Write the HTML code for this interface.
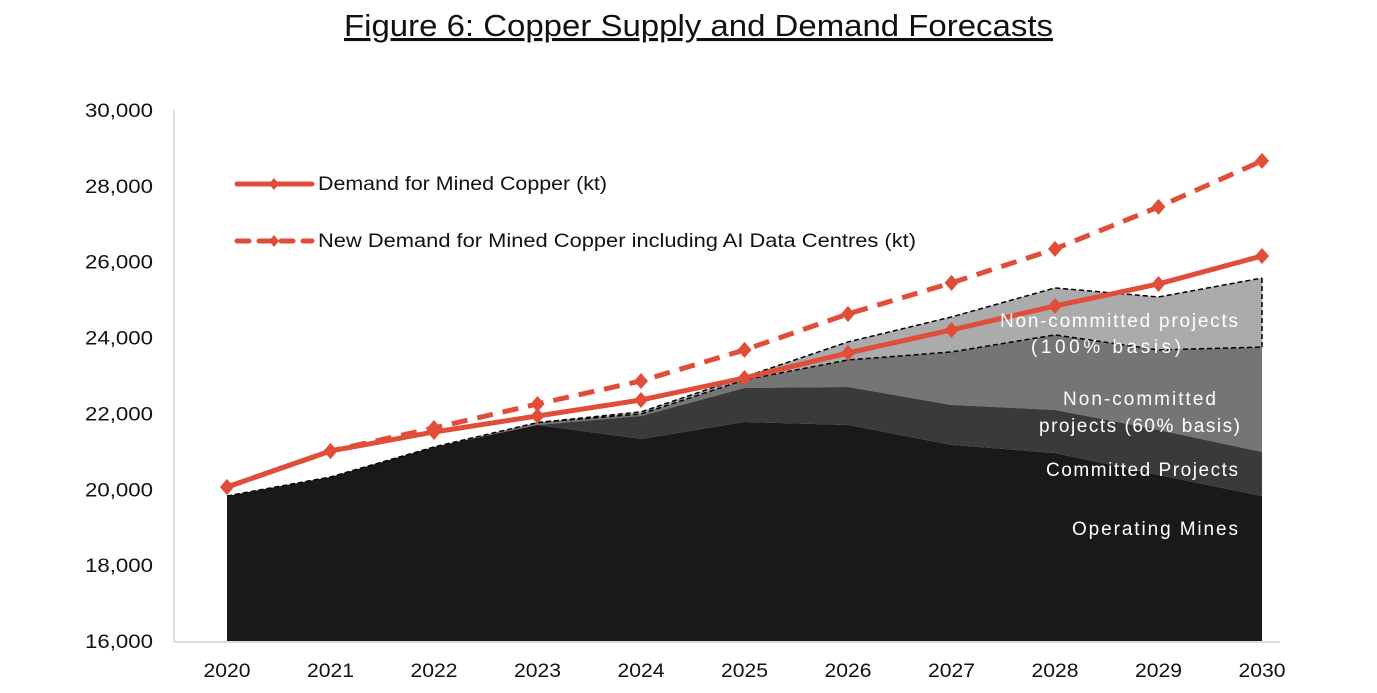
<!DOCTYPE html>
<html><head><meta charset="utf-8"><style>
body{margin:0;background:#fff;width:1377px;height:688px;overflow:hidden;font-family:"Liberation Sans",sans-serif;}
</style></head><body>
<svg id="chart" width="1377" height="688" font-family="Liberation Sans, sans-serif">
<text x="344" y="36" font-size="31" fill="#111" text-decoration="underline" textLength="709" lengthAdjust="spacingAndGlyphs">Figure 6: Copper Supply and Demand Forecasts</text>
<g id="areas"></g><g id="axes"></g><g id="lines"></g>
<g>
<line x1="237" y1="184" x2="312" y2="184" stroke="#e04e39" stroke-width="5" stroke-linecap="round"/>
<path d="M274 178 L279 184 L274 190 L269 184Z" fill="#e04e39"/>
<text x="318" y="190" font-size="19" fill="#111" textLength="289" lengthAdjust="spacingAndGlyphs">Demand for Mined Copper (kt)</text>
<line x1="237" y1="241" x2="312" y2="241" stroke="#e04e39" stroke-width="5" stroke-dasharray="12 10" stroke-linecap="round"/>
<path d="M274 235 L279 241 L274 247 L269 241Z" fill="#e04e39"/>
<text x="318" y="247" font-size="19" fill="#111" textLength="598" lengthAdjust="spacingAndGlyphs">New Demand for Mined Copper including AI Data Centres (kt)</text>
</g>
<g font-size="19" fill="#fff" lengthAdjust="spacingAndGlyphs">
<text x="1000" y="327" textLength="238">Non-committed projects</text>
<text x="1031" y="353" textLength="150">(100% basis)</text>
<text x="1063" y="405" textLength="153">Non-committed</text>
<text x="1039" y="432" textLength="201">projects (60% basis)</text>
<text x="1046" y="476" textLength="192">Committed Projects</text>
<text x="1072" y="535" textLength="166">Operating Mines</text>
</g>
</svg>
<script>
const years=[2020,2021,2022,2023,2024,2025,2026,2027,2028,2029,2030];
const operating=[19824,20325,21116,21696,21327,21775,21696,21170,20957,20378,19824];
const committedTop=[19824,20325,21116,21696,21933,22672,22698,22223,22091,21564,20984];
const nc60Top=[19824,20325,21116,21760,21986,22883,23410,23621,24070,23674,23750];
const nc100Top=[19824,20325,21116,21760,22040,22962,23885,24544,25309,25070,25570];
const demand=[20061,21010,21511,21933,22355,22935,23595,24201,24834,25414,26152];
const aiDemand=[20061,21010,21617,22250,22856,23674,24623,25441,26337,27445,28658];
const yTicks=[16000,18000,20000,22000,24000,26000,28000,30000];
const NS='http://www.w3.org/2000/svg';
const x=i=>227+(1262-227)*i/(years.length-1);
const y=v=>641-(v-16000)/14000*531;
function mk(tag,attrs,parent){const e=document.createElementNS(NS,tag);for(const k in attrs)e.setAttribute(k,attrs[k]);document.getElementById(parent).appendChild(e);return e;}
function band(top,bot,fill,name){
 let d='M'+top.map((v,i)=>x(i)+' '+y(v)).join(' L');
 for(let i=bot.length-1;i>=0;i--)d+=' L'+x(i)+' '+y(bot[i]);
 const e=mk('path',{d:d+'Z',fill:fill},'areas');
 
 
}
const base=years.map(()=>16000);
band(nc100Top,nc60Top,'#ababab','area-noncommitted-100');
band(nc60Top,committedTop,'#757575','area-noncommitted-60');
band(committedTop,operating,'#3a3a3a','area-committed');
band(operating,base,'#191919','area-operating');
const pl=(a,o)=>a.map((v,i)=>x(i+(o||0))+','+y(v)).join(' ');
let e=mk('polyline',{points:pl(nc100Top),fill:'none',stroke:'#000','stroke-width':1.5,'stroke-dasharray':'5 3'},'areas');


e=mk('polyline',{points:pl(nc60Top.slice(3),3),fill:'none',stroke:'#000','stroke-width':1.5,'stroke-dasharray':'5 3'},'areas');


const L=years.length-1;
e=mk('line',{x1:x(L),x2:x(L),y1:y(nc100Top[L]),y2:y(nc60Top[L]),stroke:'#000','stroke-width':1.5,'stroke-dasharray':'5 3'},'areas');


e=mk('line',{x1:174,x2:174,y1:110,y2:642,stroke:'#d0d0d0','stroke-width':1.5},'axes');


e=mk('line',{x1:174,x2:1280,y1:642,y2:642,stroke:'#d0d0d0','stroke-width':1.5},'axes');


yTicks.forEach(t=>{const el=mk('text',{x:153,y:y(t)+7,'text-anchor':'end','font-size':19,fill:'#111',textLength:68,lengthAdjust:'spacingAndGlyphs'},'axes');el.textContent=t.toLocaleString('en-US');

});
years.forEach((yr,i)=>{const el=mk('text',{x:x(i),y:677,'text-anchor':'middle','font-size':19,fill:'#111',textLength:47,lengthAdjust:'spacingAndGlyphs'},'axes');el.textContent=yr;

});
function series(a,dash,name){
 const l=mk('polyline',{points:pl(a),fill:'none',stroke:'#e04e39','stroke-width':5,'stroke-linejoin':'round','stroke-dasharray':dash},'lines');
 
 
 a.forEach((v,i)=>{const cx=x(i),cy=y(v);const m=mk('path',{d:`M${cx} ${cy-8} L${cx+7} ${cy} L${cx} ${cy+8} L${cx-7} ${cy}Z`,fill:'#e04e39'},'lines');
 
 });
}
series(aiDemand,'16 10','ai-demand-line');
series(demand,'none','demand-line');
</script>
</body></html>
